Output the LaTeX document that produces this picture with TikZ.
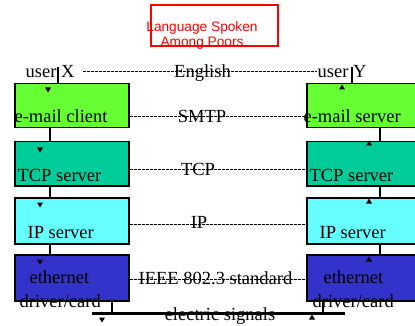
\documentclass[tikz,border=0pt]{standalone}
\usepackage{fontspec}
\setmainfont{Liberation Serif}
\newfontfamily\legendfont{Liberation Sans}

\definecolor{mailgreen}{RGB}{102,255,51}
\definecolor{tcpteal}{RGB}{0,204,153}
\definecolor{ipcyan}{RGB}{102,255,255}
\definecolor{ethblue}{RGB}{51,51,204}

% small arrow heads, as triangles
\newcommand\tridown[1]{\fill #1 +(-3,-2.5) -- +(3,-2.5) -- +(0,2.5) -- cycle;}
\newcommand\triup[1]{\fill #1 +(-3,2.5) -- +(3,2.5) -- +(0,-2.5) -- cycle;}

\begin{document}
\begin{tikzpicture}[x=1pt,y=-1pt,line width=1.2pt,
    layer/.style={draw, line width=1.5pt, anchor=north west, inner sep=0},
    txt/.style={anchor=base west, inner sep=0, font=\fontsize{18.5}{20}\selectfont},
    proto/.style={anchor=base, inner sep=0, font=\fontsize{18.5}{20}\selectfont},
    peer/.style={dash pattern=on 3pt off 1pt, line width=1.5pt}]
\useasboundingbox (0,0) rectangle (415,326);

% legend
\node[draw=red, line width=1.8pt, anchor=north west, inner sep=0,
      minimum width=127pt, minimum height=41pt] (legend) at (150,4) {};
\node[red, font=\legendfont\fontsize{13.7}{15}\selectfont, align=center,
      anchor=base, inner sep=0] (legendtxt) at (202,46.7) {Language Spoken\\Among Poors};

% host X
\node[layer, fill=mailgreen, minimum width=114pt, minimum height=44pt] (mailx) at (14,83) {};
\node[layer, fill=tcpteal, minimum width=114pt, minimum height=44pt] (tcpx) at (14,141) {};
\node[layer, fill=ipcyan, minimum width=114pt, minimum height=46pt] (ipx) at (14,197) {};
\node[layer, fill=ethblue, minimum width=114pt, minimum height=46pt] (ethx) at (14,254) {};

% host Y
\node[layer, fill=mailgreen, minimum width=124pt, minimum height=44pt] (maily) at (306,83) {};
\node[layer, fill=tcpteal, minimum width=124pt, minimum height=44pt] (tcpy) at (306,141) {};
\node[layer, fill=ipcyan, minimum width=124pt, minimum height=46pt] (ipy) at (306,197) {};
\node[layer, fill=ethblue, minimum width=124pt, minimum height=46pt] (ethy) at (306,254) {};

% texts
\node[txt] (userx) at (25,77.7) {user X};
\node[txt] (usery) at (317,77.7) {user Y};
\node[txt] (mailxtxt) at (14,123) {e-mail client};
\node[txt] (mailytxt) at (303,123) {e-mail server};
\node[txt] (tcpxtxt) at (17,182) {TCP server};
\node[txt] (tcpytxt) at (309,182) {TCP server};
\node[txt] (ipxtxt) at (27,238) {IP server};
\node[txt] (ipytxt) at (319,238) {IP server};
\node[txt] (ethxtxt) at (29,283) {ethernet};
\node[txt] (ethytxt) at (323,283) {ethernet};
\node[txt] (drvxtxt) at (19,307) {driver/card};
\node[txt] (drvytxt) at (312,307) {driver/card};

\node[proto] (english) at (202.5,77.7) {English};
\node[proto] (smtp) at (202,123) {SMTP};
\node[proto] (tcp) at (198,175.7) {TCP};
\node[proto] (ip) at (199,228) {IP};
\node[proto] (ieee) at (215.5,284) {IEEE 802.3 standard};
\node[proto] (signals) at (220,320) {electric signals};

% peer to peer
\draw[peer] ([xshift=8pt]userx.east) -- (usery.west);
\draw[peer] ([yshift=12pt]mailx.south east) -- ([yshift=12pt]maily.south west);
\draw[peer] ([yshift=17pt]tcpx.south east) -- ([yshift=17pt]tcpy.south west);
\draw[peer] ([yshift=20pt]ipx.south east) -- ([yshift=20pt]ipy.south west);
\draw[peer] ([yshift=22pt]ethx.south east) -- ([yshift=22pt]ethy.south west);

% down the stack
\draw ([xshift=44pt]mailx.north west) -- ++(0,-16);
\draw ([xshift=36pt]mailx.south west) -- ([xshift=36pt]tcpx.north west);
\draw ([xshift=36pt]tcpx.south west) -- ([xshift=36pt]ipx.north west);
\draw ([xshift=36pt]ipx.south west) -- ([xshift=36pt]ethx.north west);
\draw ([xshift=46pt]maily.north west) -- ++(0,-16);
\draw ([xshift=74pt]maily.south west) -- ([xshift=74pt]tcpy.north west);
\draw ([xshift=74pt]tcpy.south west) -- ([xshift=74pt]ipy.north west);
\draw ([xshift=74pt]ipy.south west) -- ([xshift=74pt]ethy.north west);

% wire
\coordinate (busl) at (92,313);
\coordinate (busr) at (345,313);
\draw ([xshift=98pt]ethx.south west) -- ([xshift=98pt]ethx.south west |- busl);
\draw ([xshift=17pt]ethy.south west) -- ([xshift=17pt]ethy.south west |- busr);
\draw[line width=3pt] (busl) -- (busr);

\tridown{(48,90)}
\tridown{(40,150)}
\tridown{(40,205)}
\tridown{(40,262)}
\tridown{(102,320)}
\triup{(342,87)}
\triup{(369,143)}
\triup{(369,201)}
\triup{(369,259)}
\triup{(312,317)}
\end{tikzpicture}
\end{document}
